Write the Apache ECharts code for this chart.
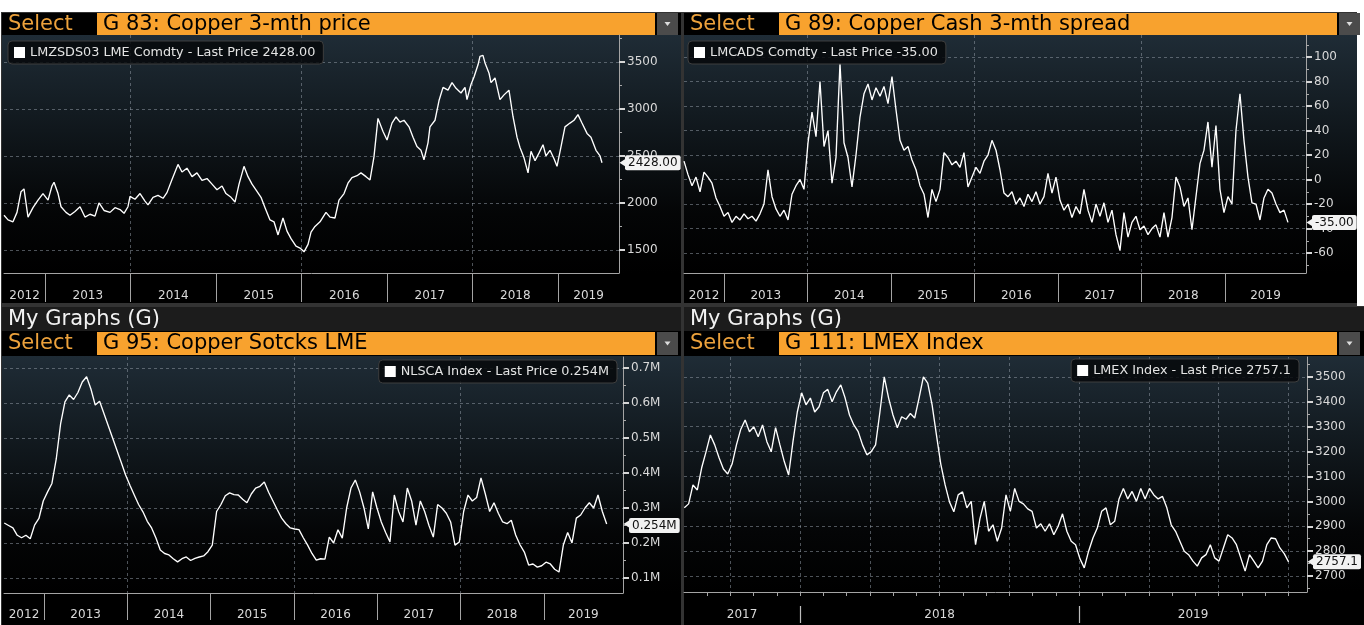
<!DOCTYPE html>
<html>
<head>
<meta charset="utf-8">
<title>Copper dashboard</title>
<script src="https://cdn.jsdelivr.net/npm/echarts@6.0.0/dist/echarts.min.js"></script>
<style>
html,body{margin:0;padding:0;background:#fff;overflow:hidden;}
#chart{width:1364px;height:625px;}
</style>
</head>
<body>
<div id="chart"></div>
<script>
// ================= DATA =================
const yearNames = ['2012','2013','2014','2015','2016','2017','2018','2019'];
const yearStarts = [2013,2014,2015,2016,2017,2018,2019];

// Panel 1: G 83 Copper 3-mth price (dates as fractional years)
const p1Dates = [2012.520,2012.567,2012.625,2012.672,2012.719,2012.754,2012.801,2012.859,2012.918,2012.976,
2013.035,2013.081,2013.105,2013.152,2013.187,2013.245,2013.292,2013.350,2013.409,2013.467,
2013.526,2013.584,2013.631,2013.690,2013.760,2013.818,2013.877,2013.924,2013.970,2013.994,
2014.052,2014.111,2014.169,2014.204,2014.263,2014.321,2014.380,2014.426,2014.485,2014.555,
2014.602,2014.660,2014.719,2014.777,2014.836,2014.894,2014.953,2015.011,2015.070,2015.116,
2015.175,2015.222,2015.269,2015.327,2015.374,2015.421,2015.467,2015.526,2015.573,2015.631,
2015.678,2015.725,2015.783,2015.830,2015.877,2015.935,2015.982,2016.029,2016.076,2016.111,
2016.157,2016.216,2016.286,2016.333,2016.391,2016.438,2016.497,2016.543,2016.590,2016.649,
2016.695,2016.754,2016.801,2016.847,2016.894,2016.953,2017.000,2017.058,2017.105,2017.152,
2017.198,2017.257,2017.304,2017.350,2017.397,2017.432,2017.479,2017.502,2017.561,2017.608,
2017.655,2017.713,2017.760,2017.807,2017.865,2017.912,2017.935,2017.982,2018.017,2018.064,
2018.087,2018.122,2018.146,2018.193,2018.216,2018.263,2018.321,2018.368,2018.426,2018.473,
2018.520,2018.555,2018.602,2018.649,2018.684,2018.731,2018.777,2018.824,2018.859,2018.906,
2018.953,2018.988,2019.035,2019.081,2019.140,2019.187,2019.233,2019.280,2019.339,2019.385,
2019.444,2019.491,2019.514];
const p1Values = [1870,1820,1800,1900,2120,2150,1850,1950,2030,2100,
2030,2180,2220,2100,1960,1900,1870,1910,1960,1850,
1880,1860,2000,1920,1900,1950,1930,1890,1960,2070,
2040,2100,2020,1980,2060,2080,2050,2110,2250,2410,
2330,2370,2280,2320,2240,2260,2200,2140,2180,2100,
2060,2010,2200,2390,2280,2200,2140,2060,1950,1820,
1800,1660,1840,1700,1620,1540,1520,1480,1560,1690,
1750,1800,1900,1850,1840,2030,2100,2210,2270,2290,
2320,2280,2245,2490,2900,2760,2670,2850,2915,2860,
2880,2810,2700,2600,2560,2460,2640,2810,2880,3090,
3230,3200,3280,3220,3170,3230,3100,3260,3340,3470,
3560,3570,3490,3380,3280,3330,3100,3150,3200,2920,
2700,2590,2480,2320,2550,2450,2530,2620,2500,2560,
2470,2390,2600,2810,2850,2880,2940,2850,2740,2700,
2560,2500,2428];

// Panel 2: G 89 Copper Cash 3-mth spread (evenly spaced observations)
const p2Range = [2012.521, 2019.754];
const p2Values = [15,4,-5,2,-10,6,2,-3,-15,-22,
-30,-27,-35,-30,-33,-28,-32,-30,-34,-28,
-20,8,-14,-24,-30,-25,-33,-12,-5,0,
-8,30,55,35,80,27,40,-3,18,95,
30,18,-6,20,51,70,78,65,75,68,
76,62,84,57,32,24,27,16,8,-5,
-12,-31,-8,-18,-8,22,18,12,15,10,
22,-6,2,10,5,15,20,32,24,8,
-11,-14,-10,-20,-15,-22,-12,-18,-10,-20,
-14,5,-11,2,-17,-25,-20,-31,-22,-28,
-8,-25,-35,-20,-30,-19,-35,-25,-45,-58,
-27,-47,-35,-30,-41,-38,-45,-40,-37,-47,
-27,-47,-31,2,-6,-22,-15,-41,-14,13,
24,47,10,44,-8,-27,-14,-20,40,70,
32,2,-19,-20,-33,-15,-8,-11,-20,-27,
-25,-35];

// Panel 3: G 95 Copper stocks LME (millions)
const p3Range = [2012.523, 2019.755];
const p3Values = [0.257,0.250,0.243,0.222,0.215,0.222,0.212,0.251,0.270,0.320,
0.346,0.370,0.440,0.540,0.603,0.623,0.610,0.630,0.660,0.675,
0.640,0.594,0.605,0.570,0.535,0.500,0.465,0.430,0.394,0.365,
0.337,0.310,0.289,0.262,0.243,0.214,0.180,0.170,0.166,0.155,
0.146,0.155,0.160,0.150,0.156,0.160,0.163,0.175,0.194,0.290,
0.310,0.335,0.343,0.338,0.337,0.325,0.315,0.340,0.357,0.362,
0.374,0.345,0.320,0.295,0.271,0.255,0.243,0.240,0.238,0.215,
0.194,0.170,0.151,0.155,0.154,0.217,0.200,0.238,0.214,0.300,
0.357,0.380,0.346,0.300,0.240,0.346,0.300,0.260,0.230,0.203,
0.337,0.290,0.260,0.357,0.320,0.251,0.320,0.290,0.250,0.217,
0.310,0.300,0.285,0.260,0.194,0.203,0.290,0.337,0.320,0.330,
0.386,0.340,0.290,0.315,0.285,0.260,0.255,0.265,0.223,0.195,
0.174,0.137,0.140,0.131,0.135,0.145,0.140,0.125,0.117,0.194,
0.230,0.200,0.271,0.280,0.300,0.315,0.300,0.337,0.290,0.254];

// Panel 4: G 111 LMEX Index
const p4YearNames = ['2017','2018','2019'];
const p4YearStarts = [2018,2019];
const p4Range = [2017.585, 2019.751];
const p4Values = [2974,2990,3066,3046,3135,3199,3267,3227,3175,3130,
3110,3150,3227,3290,3327,3280,3300,3260,3307,3240,
3199,3296,3227,3160,3106,3240,3359,3436,3388,3415,
3359,3380,3436,3450,3400,3440,3468,3415,3347,3307,
3280,3227,3187,3200,3227,3359,3500,3415,3347,3296,
3340,3330,3353,3335,3415,3500,3475,3388,3267,3150,
3066,2998,2958,3026,3038,2974,3000,2826,2930,3000,
2880,2906,2840,2893,3026,2960,3052,3000,2990,2970,
2960,2893,2910,2880,2910,2866,2900,2950,2880,2840,
2826,2770,2733,2800,2853,2893,2960,2974,2906,2920,
3010,3052,3010,3040,3000,3052,3010,3052,3026,3010,
3020,2974,2906,2880,2840,2800,2786,2760,2740,2773,
2786,2826,2773,2760,2813,2866,2853,2826,2773,2720,
2786,2760,2733,2760,2826,2853,2850,2813,2790,2757.1];

// tick labels
const p1Ticks = [1500,2000,2500,3000,3500];
const p1Minor = [1750,2250,2750,3250,3750];
const p2Ticks = [-60,-40,-20,0,20,40,60,80,100];
const p2Minor = [-70,-50,-30,-10,10,30,50,70,90,110];
const p3Ticks = [0.1,0.2,0.3,0.4,0.5,0.6,0.7];
const p3Minor = [0.15,0.25,0.35,0.45,0.55,0.65];
const p4Ticks = [2700,2800,2900,3000,3100,3200,3300,3400,3500];
const p4Minor = [2650,2750,2850,2950,3050,3150,3250,3350,3450,3550];

// ================= HELPERS =================
function spread(range, values){
  const n = values.length;
  return values.map((v,i)=>[range[0] + (range[1]-range[0])*i/(n-1), v]);
}
function zip(d, v){ return v.map((val,i)=>[d[i], val]); }
function last(a){ return a[a.length-1]; }
function centersOf(min, max, bounds){
  const b = [min].concat(bounds, [max]);
  const c = [];
  for (let i=0;i<b.length-1;i++) c.push((b[i]+b[i+1])/2);
  return c;
}
function nearestName(centers, names){
  return function(v){
    let best = 0;
    for (let i=1;i<centers.length;i++) if (Math.abs(centers[i]-v) < Math.abs(centers[best]-v)) best = i;
    return names[best];
  };
}

const LABEL = '#d9d9d9';
const AXIS = '#a4a4a4';
const GRIDC = 'rgba(140,150,160,0.55)';
const FONT = 'DejaVu Sans';

const option = {
  backgroundColor:'#ffffff',
  animation:false,
  textStyle:{fontFamily:FONT},
  grid:[], xAxis:[], yAxis:[], series:[], legend:[], graphic:[]
};

function addPanel(p){
  const gi = option.grid.length;
  option.grid.push({left:p.box[0], top:p.box[1], width:p.box[2], height:p.box[3], show:false});
  const centers = centersOf(p.x[0], p.x[1], p.bounds);
  const xi = option.xAxis.length;
  // main bottom axis
  option.xAxis.push({
    type:'value', gridIndex:gi, min:p.x[0], max:p.x[1], position:'bottom',
    axisLine:{show:true, onZero:false, lineStyle:{color:AXIS, width:1}},
    axisTick:{show:true, customValues:p.months || p.bounds, length:p.months ? 4 : p.sepLen, lineStyle:{color:AXIS, width:1}},
    axisLabel:{show:true, customValues:centers, margin:p.labelMargin, color:LABEL, fontSize:12, fontFamily:FONT, formatter:nearestName(centers, p.names)},
    splitLine:{show:false}
  });
  // vertical grid lines
  option.xAxis.push({
    type:'value', gridIndex:gi, min:p.x[0], max:p.x[1], position:'top',
    axisLine:{show:false, onZero:false}, axisTick:{show:false, customValues:p.gridX},
    axisLabel:{show:false}, splitLine:{show:true, lineStyle:{color:GRIDC, width:1, type:[3,3]}}
  });
  if (p.months){
    // year separators, below month ticks
    option.xAxis.push({
      type:'value', gridIndex:gi, min:p.x[0], max:p.x[1], position:'bottom', offset:14,
      axisLine:{show:false, onZero:false}, axisTick:{show:true, customValues:p.bounds, length:17, lineStyle:{color:'#bdbdbd', width:1.2}},
      axisLabel:{show:false}, splitLine:{show:false}
    });
  }
  const yi = option.yAxis.length;
  option.yAxis.push({
    type:'value', gridIndex:gi, min:p.y[0], max:p.y[1], position:'right',
    axisLine:{show:true, onZero:false, lineStyle:{color:AXIS, width:1}},
    axisTick:{show:true, customValues:p.major, length:6, lineStyle:{color:'#d6d6d6', width:2}},
    axisLabel:{show:true, customValues:p.major, formatter:p.fmt, margin:8, color:LABEL, fontSize:12, fontFamily:FONT},
    splitLine:{show:true, lineStyle:{color:GRIDC, width:1, type:[3,3]}}
  });
  option.yAxis.push({
    type:'value', gridIndex:gi, min:p.y[0], max:p.y[1], position:'right',
    axisLine:{show:false, onZero:false},
    axisTick:{show:true, customValues:p.minor, length:3, lineStyle:{color:'#aaaaaa', width:1}},
    axisLabel:{show:false}, splitLine:{show:false}
  });
  const lv = last(p.values);
  option.series.push({
    type:'line', name:p.name, xAxisIndex:xi, yAxisIndex:yi, data:p.data,
    showSymbol:false, symbol:'none', silent:true, animation:false,
    lineStyle:{color:'#ffffff', width:1.35}, itemStyle:{color:'#ffffff'},
    markLine:{
      silent:true, symbol:'none', animation:false,
      lineStyle:{color:'rgba(0,0,0,0)', width:0},
      label:{show:true, position:'end', distance:6, formatter:p.lastText,
        backgroundColor:'#f2f2f2', color:'#111', padding:[2,3,1,3], borderRadius:2,
        fontSize:12, fontFamily:FONT},
      data:[{yAxis:lv}]
    },
    markPoint:{
      silent:true, animation:false,
      symbol:'triangle', symbolSize:[9,7], symbolRotate:90, symbolOffset:[4,0],
      itemStyle:{color:'#f2f2f2'}, label:{show:false},
      data:[{coord:[p.x[1], lv]}]
    }
  });
  const lg = {
    data:[p.name], top:p.legend.top, orient:'horizontal', icon:'rect',
    itemWidth:11, itemHeight:11, selectedMode:false,
    backgroundColor:'rgba(6,8,10,0.85)', borderColor:'#3e3e3e', borderWidth:1, borderRadius:4,
    padding:[5,8,5,6],
    textStyle:{color:'#e4e4e4', fontSize:12.8, fontFamily:FONT}
  };
  if (p.legend.left !== undefined) lg.left = p.legend.left; else lg.right = p.legend.right;
  option.legend.push(lg);
}

const p1Last = last(p1Values), p2Last = last(p2Values), p3Last = last(p3Values), p4Last = last(p4Values);

addPanel({
  box:[4,35,615,238], x:[2012.52,2019.713], y:[1255,3787],
  data:zip(p1Dates,p1Values), values:p1Values,
  bounds:yearStarts, names:yearNames, sepLen:29, labelMargin:17, gridX:[2014,2016,2018],
  major:p1Ticks, minor:p1Minor, fmt:v=>String(Math.round(v)),
  lastText:p1Last.toFixed(2), name:'LMZSDS03 LME Comdty - Last Price '+p1Last.toFixed(2),
  legend:{left:8, top:41}
});
addPanel({
  box:[684,35,622,238], x:[2012.521,2019.970], y:[-76.3,118],
  data:spread(p2Range,p2Values), values:p2Values,
  bounds:yearStarts, names:yearNames, sepLen:29, labelMargin:17, gridX:[2014,2016,2018],
  major:p2Ticks, minor:p2Minor, fmt:v=>String(Math.round(v)),
  lastText:p2Last.toFixed(2), name:'LMCADS Comdty - Last Price '+p2Last.toFixed(2),
  legend:{left:688, top:41}
});
addPanel({
  box:[4,357,619,236], x:[2012.520,2019.951], y:[0.0571,0.7314],
  data:spread(p3Range,p3Values), values:p3Values,
  bounds:yearStarts, names:yearNames, sepLen:27, labelMargin:16, gridX:[2014,2016,2018],
  major:p3Ticks, minor:p3Minor, fmt:v=>v.toFixed(1)+'M',
  lastText:p3Last.toFixed(3)+'M', name:'NLSCA Index - Last Price '+p3Last.toFixed(3)+'M',
  legend:{right:747, top:360}
});
const p4Months = [], p4Quarters = [];
for (let k=0;k<48;k++){ const v = 2017 + k/12; if (v > p4Range[0] && v < 2019.817) p4Months.push(v); }
for (let k=0;k<16;k++){ const v = 2017 + k/4; if (v > p4Range[0] && v < 2019.817) p4Quarters.push(v); }
addPanel({
  box:[684,357,623,235], x:[2017.584,2019.817], y:[2636,3580],
  data:spread(p4Range,p4Values), values:p4Values,
  bounds:p4YearStarts, names:p4YearNames, months:p4Months, labelMargin:17, gridX:p4Quarters,
  major:p4Ticks, minor:p4Minor, fmt:v=>String(Math.round(v)),
  lastText:p4Last.toFixed(1), name:'LMEX Index - Last Price '+p4Last.toFixed(1),
  legend:{right:65, top:359}
});

// ================= CHROME (headers / backgrounds) =================
const ORANGE = '#f8a22e', SEL = '#eda23c';
const g = option.graphic;
function rect(x,y,w,h,fill,z){ g.push({type:'rect', silent:true, z:(z===undefined?-30:z), shape:{x:x,y:y,width:w,height:h}, style:{fill:fill}}); }
function txt(x,y,t,fill,size,z){ g.push({type:'text', silent:true, z:(z===undefined?-5:z), x:x, y:y, style:{text:t, fill:fill, font:size+'px "DejaVu Sans"', verticalAlign:'middle', align:'left'}}); }
function grad(){ return new echarts.graphic.LinearGradient(0,0,0,1,[
  {offset:0,color:'#1f2c36'},{offset:0.4,color:'#10171c'},{offset:0.75,color:'#040506'},{offset:1,color:'#000'}]); }
function header(x0, y, h, title){
  txt(x0+6, y+h/2+0.5, 'Select', SEL, 21);
  rect(x0+95, y, 558, h, ORANGE, -10);
  txt(x0+101, y+h/2+0.5, title, '#000', 21);
  rect(x0+655, y, 21, h, '#4b4b4b', -10);
  const cx = x0+665.5, cy = y+h/2;
  g.push({type:'polygon', silent:true, z:-5, shape:{points:[[cx-3,cy-2],[cx+3,cy-2],[cx,cy+2]]}, style:{fill:'#dddddd'}});
}
rect(1,12,1363,613,'#333333',-40);
rect(1357,0,7,306,'#ffffff',-39);
// panel bodies
rect(2,13,679,290,'#000',-35);
rect(684,13,673,290,'#000',-35);
rect(2,307,679,318,'#000',-35);
rect(684,307,680,318,'#000',-35);
// plot bands
rect(2,35,679,238,grad(),-32);
rect(684,35,673,238,grad(),-32);
rect(2,356,679,237,grad(),-32);
rect(684,356,680,236,grad(),-32);
// "My Graphs" rows
rect(2,307,679,24,'#1c1c1c',-31);
rect(684,307,680,24,'#1c1c1c',-31);
txt(8,319.5,'My Graphs (G)','#f2f2f2',21);
txt(690,319.5,'My Graphs (G)','#f2f2f2',21);
header(2,13,22,'G 83: Copper 3-mth price');
header(684,13,22,'G 89: Copper Cash 3-mth spread');
header(2,332,23,'G 95: Copper Sotcks LME');
header(684,332,23,'G 111: LMEX Index');

const chart = echarts.init(document.getElementById('chart'), null, {renderer:'canvas'});
chart.setOption(option);
</script>
</body>
</html>
